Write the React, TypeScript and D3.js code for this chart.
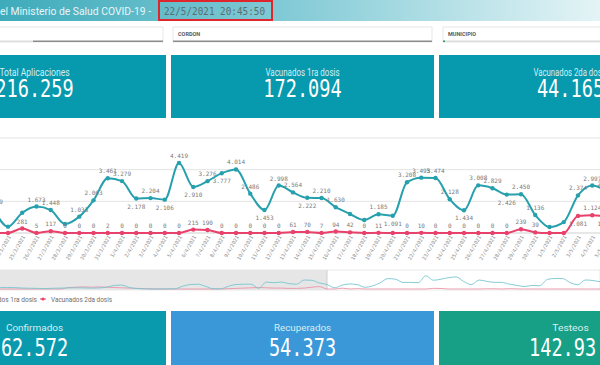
import React from "react";
import * as d3 from "d3";

// main window of the line chart (one point per day)
const dates = [
  "23/3/2021", "24/3/2021", "25/3/2021", "26/3/2021", "27/3/2021", "28/3/2021", "29/3/2021", "30/3/2021",
  "31/3/2021", "1/4/2021", "2/4/2021", "3/4/2021", "4/4/2021", "5/4/2021", "6/4/2021", "7/4/2021",
  "8/4/2021", "9/4/2021", "10/4/2021", "11/4/2021", "12/4/2021", "13/4/2021", "14/4/2021", "15/4/2021",
  "16/4/2021", "17/4/2021", "18/4/2021", "19/4/2021", "20/4/2021", "21/4/2021", "22/4/2021", "23/4/2021",
  "24/4/2021", "25/4/2021", "26/4/2021", "27/4/2021", "28/4/2021", "29/4/2021", "30/4/2021", "1/5/2021",
  "2/5/2021", "3/5/2021", "4/5/2021", "5/5/2021",
];
const vacunados1ra = [
  1509, 400, 1280, 1673, 1448, 570, 1033, 2063, 3461, 3279, 2178, 2204, 2106, 4419, 2910, 3276,
  3777, 4014, 2486, 1453, 2998, 2564, 2222, 2210, 1630, 1200, 820, 1185, 1091, 3208, 3495, 3474,
  2128, 1434, 3008, 2829, 2426, 2450, 1136, 380, 690, 2374, 2997, 2650,
];
const vacunados2da = [
  0, 0, 281, 5, 117, 0, 0, 0, 2, 0, 0, 0, 0, 0, 215, 190,
  0, 0, 0, 0, 0, 61, 70, 7, 94, 42, 0, 11, 0, 0, 10, 0,
  0, 0, 0, 0, 0, 239, 39, 0, 0, 1081, 1124, 1050,
];
// labels the reference hides, and labels drawn under the point
const hidden1ra = ["24/3/2021", "25/3/2021", "28/3/2021", "17/4/2021", "18/4/2021", "1/5/2021", "2/5/2021"];
const hidden2da = ["23/3/2021", "24/3/2021", "20/4/2021", "1/5/2021", "2/5/2021"];
const below1ra = ["2/4/2021", "4/4/2021", "6/4/2021", "8/4/2021", "11/4/2021", "14/4/2021", "20/4/2021", "25/4/2021", "28/4/2021"];
const below2da = ["3/5/2021", "5/5/2021"];

// earlier days shown only in the scroll overview (7/2 .. 22/3)
const early1ra = [
  500, 520, 500, 450, 300, 250, 200, 150, 250, 300, 350, 400, 350, 300, 350, 600,
  1200, 1300, 500, 150, 50, 0, 0, 50, 100, 900, 1500, 1600, 900, 100, 50, 900,
  1500, 1600, 1600, 200, 2300, 2100, 2300, 1800, 1600, 3000, 2900, 2000,
];
const early2da = [
  0, 0, 0, 0, 0, 0, 0, 0, 0, 0, 500, 600, 700, 600, 700, 600,
  500, 400, 300, 200, 100, 50, 0, 0, 0, 0, 0, 0, 0, 0, 0, 100,
  200, 300, 400, 500, 400, 300, 300, 200, 200, 300, 600, 800,
];

const yTicks = [0, 2000, 4000, 6000];

const topTitles = ["Total Aplicaciones", "Vacunados 1ra dosis", "Vacunados 2da dosis"];
const topValues = ["216.259", "172.094", "44.165"];
const bottomTitles = ["Confirmados", "Recuperados", "Testeos"];
const bottomValues = ["62.572", "54.373", "142.93"];
const bottomColors = ["#0a9aae", "#3a98d9", "#17a086"];
const filterLabels = ["", "CORDON", "MUNICIPIO"];
const seriesNames = ["Vacunados 1ra dosis", "Vacunados 2da dosis"];

const TEAL = "#27a0ae";
const PINK = "#e8416b";
const SANS = "Roboto, 'Noto Sans', sans-serif";
const MONO = "'DejaVu Sans Mono', monospace";

const fmt = d3
  .formatLocale({ decimal: ",", thousands: ".", grouping: [3], currency: ["$", ""] })
  .format(",d");

const tileX = [-97, 171, 439];
const tileW = 263;

export default function App() {
  const x = d3.scalePoint<string>().domain(dates).range([-6.25, 606.5]);
  const y = d3.scaleLinear().domain([0, 6000]).range([233, 138]);

  const line = d3
    .line<number>()
    .x((d, i) => x(dates[i]) as number)
    .y((d) => y(d))
    .curve(d3.curveMonotoneX);

  // overview: early days + main window
  const all1ra = early1ra.concat(vacunados1ra);
  const all2da = early2da.concat(vacunados2da);
  const mx = d3
    .scaleLinear()
    .domain([0, early1ra.length])
    .range([327 - early1ra.length * 7.6, 327]);
  const my = d3.scaleLinear().domain([0, 6000]).range([289, 271]);
  const miniLine = d3
    .line<number>()
    .x((d, i) => mx(i))
    .y((d) => my(d))
    .curve(d3.curveMonotoneX);

  const series = [
    { values: vacunados1ra, color: TEAL, hidden: hidden1ra, below: below1ra },
    { values: vacunados2da, color: PINK, hidden: hidden2da, below: below2da },
  ];

  return (
    <svg
      width={600}
      height={365}
      style={{ position: "absolute", left: 0, top: 0, background: "#fff" }}
    >
      <defs>
        <linearGradient id="hdr" x1="0" x2="1" y1="0" y2="0">
          <stop offset="0" stopColor="#3eabbb" />
          <stop offset="0.5" stopColor="#86ccd7" />
          <stop offset="1" stopColor="#e4f4f6" />
        </linearGradient>
      </defs>

      {/* header */}
      <rect x={0} y={0} width={600} height={21} fill="url(#hdr)" />
      <text x={0} y={14.5} fontFamily={SANS} fontSize={11} fill="#e9f5f7" textLength={151} lengthAdjust="spacingAndGlyphs">
        el Ministerio de Salud COVID-19 -
      </text>
      <rect x={159} y={1} width={113} height={19} fill="none" stroke="#e0262d" strokeWidth={2} />
      <text x={164} y={14.5} fontFamily={MONO} fontSize={10.5} fill="#5b6d71" textLength={101} lengthAdjust="spacingAndGlyphs">
        22/5/2021 20:45:50
      </text>

      {/* filter boxes */}
      {filterLabels.map((lab, i) => {
        const bx = [-5, 173, 443][i];
        const bw = [168, 259, 170][i];
        return (
          <g key={"f" + i}>
            <rect x={bx} y={27} width={bw} height={15} fill="#fff" stroke="#e2e2e2" strokeWidth={0.8} />
            {i === 0 && <rect x={0} y={40.5} width={33} height={1.5} fill="#ddd" />}
            {i === 0 && <rect x={33} y={40.5} width={130} height={1.5} fill="#8c8c8c" />}
            {i === 1 && <rect x={173} y={40.5} width={259} height={1.5} fill="#8c8c8c" />}
            {i === 2 && <rect x={443} y={40.5} width={157} height={1.5} fill="#dcdcdc" />}
            {i === 2 && <circle cx={444} cy={41.2} r={1} fill="#1e9e5a" />}
            <text x={bx + 5} y={36} fontFamily={SANS} fontSize={5.5} fontWeight="bold" fill="#595959">
              {lab}
            </text>
          </g>
        );
      })}

      {/* top KPI tiles */}
      {topTitles.map((t, i) => (
        <g key={"t" + i}>
          <rect x={tileX[i]} y={55} width={tileW} height={63} fill="#0799ad" />
          <text x={tileX[i] + tileW / 2} y={75.5} textAnchor="middle" fontFamily={SANS} fontSize={10} fill="#d3eef2" textLength={t.length * 3.9} lengthAdjust="spacingAndGlyphs">
            {t}
          </text>
          <text x={tileX[i] + tileW / 2} y={96.5} textAnchor="middle" fontFamily={MONO} fontSize={24} fill="#fff" textLength={topValues[i].length * 11.2} lengthAdjust="spacingAndGlyphs">
            {topValues[i]}
          </text>
        </g>
      ))}

      {/* gridlines */}
      {yTicks.map((t) => (
        <line key={"g" + t} x1={0} x2={600} y1={y(t)} y2={y(t)} stroke={t === 0 ? "#cfcfcf" : "#e4e4e4"} strokeWidth={1} />
      ))}

      {/* lines, points, labels */}
      {series.map((s, si) => (
        <g key={"s" + si}>
          <path d={line(s.values) || ""} fill="none" stroke={s.color} strokeWidth={2} />
          {s.values.map((v, i) => (
            <circle key={i} cx={x(dates[i])} cy={y(v)} r={2.2} fill={s.color} />
          ))}
          {s.values.map((v, i) => {
            const d = dates[i];
            if (s.hidden.includes(d)) return null;
            const below = s.below.includes(d);
            return (
              <text
                key={"l" + i}
                x={x(dates[i])}
                y={y(v) + (below ? 10 : -5)}
                textAnchor="middle"
                fontFamily={MONO}
                fontSize={6}
                fill="#7a7a7a"
              >
                {fmt(v)}
              </text>
            );
          })}
        </g>
      ))}

      {/* x axis labels */}
      {dates.map((d) => (
        <text
          key={"x" + d}
          transform={`translate(${(x(d) as number) + 3},${237}) rotate(-60)`}
          textAnchor="end"
          fontFamily={MONO}
          fontSize={5}
          fill="#8a8a8a"
        >
          {d}
        </text>
      ))}

      {/* scroll overview */}
      <rect x={0} y={270} width={600} height={20} fill="#fff" stroke="#e3e3e3" strokeWidth={0.8} />
      <rect x={0} y={270} width={327} height={20} fill="#e6e6e6" />
      <line x1={327} x2={327} y1={270} y2={290} stroke="#d0d0d0" />
      <path d={miniLine(all2da) || ""} fill="none" stroke="#ec93a8" strokeWidth={0.9} />
      <path d={miniLine(all1ra) || ""} fill="none" stroke="#76c6cf" strokeWidth={0.9} />

      {/* legend */}
      {seriesNames.map((n, i) => {
        const lx = [-32, 43][i];
        const c = [TEAL, PINK][i];
        return (
          <g key={"lg" + i}>
            <line x1={lx - 3} x2={lx + 3} y1={299} y2={299} stroke={c} strokeWidth={1} />
            <circle cx={lx} cy={299} r={1.6} fill={c} />
            <text x={lx + 8} y={301.5} fontFamily={SANS} fontSize={7} fill="#6e6e6e" textLength={61} lengthAdjust="spacingAndGlyphs">
              {n}
            </text>
          </g>
        );
      })}

      {/* bottom KPI tiles */}
      {bottomTitles.map((t, i) => (
        <g key={"b" + i}>
          <rect x={tileX[i]} y={311} width={tileW} height={60} fill={bottomColors[i]} />
          <text x={tileX[i] + tileW / 2} y={330.5} textAnchor="middle" fontFamily={SANS} fontSize={9.5} fill="#d8eef4" textLength={t.length * 5.2} lengthAdjust="spacingAndGlyphs">
            {t}
          </text>
          <text
            x={i === 2 ? 529 : tileX[i] + tileW / 2}
            y={356}
            textAnchor={i === 2 ? "start" : "middle"}
            fontFamily={MONO}
            fontSize={24}
            fill="#fff"
            textLength={bottomValues[i].length * 11.2}
            lengthAdjust="spacingAndGlyphs"
          >
            {bottomValues[i]}
          </text>
        </g>
      ))}
    </svg>
  );
}
